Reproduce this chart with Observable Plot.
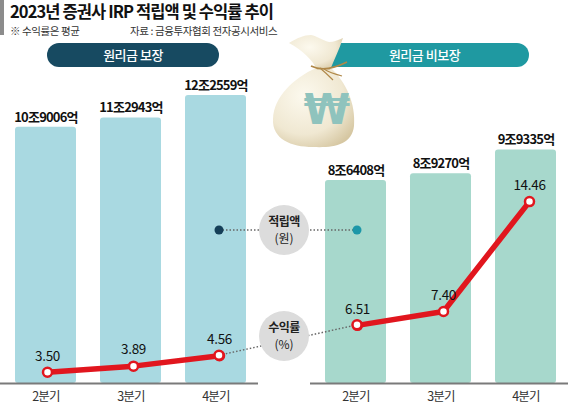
<!DOCTYPE html>
<html><head><meta charset="utf-8">
<script src="https://cdn.jsdelivr.net/npm/d3@7"></script>
<script src="https://cdn.jsdelivr.net/npm/@observablehq/plot@0.6"></script>
<style>
body{margin:0;background:#fff;font-family:"Noto Sans CJK KR","Noto Sans",sans-serif;}
#wrap{position:relative;width:570px;height:407px;overflow:hidden;background:#fff;}
.layer{position:absolute;left:0;top:38px;}
#over{position:absolute;left:0;top:0;}
#gbar{position:absolute;left:0;top:0;width:4px;height:35px;background:#8c8c8c}
#title{position:absolute;left:10px;top:2px;font-size:16.5px;font-weight:700;letter-spacing:-0.9px;color:#111;line-height:19px;white-space:nowrap}
#note{position:absolute;left:10px;top:23.5px;font-size:10.5px;color:#333;letter-spacing:-0.4px;line-height:14px;white-space:nowrap}
#src{position:absolute;left:130px;top:23.5px;font-size:10.5px;color:#333;letter-spacing:-0.4px;line-height:14px;white-space:nowrap}
</style></head><body>
<div id="wrap">
  <div id="gbar"></div>
  <div id="title">2023년 증권사 IRP 적립액 및 수익률 추이</div>
  <div id="note">※ 수익률은 평균</div>
  <div id="src">자료 : 금융투자협회 전자공시서비스</div>
  <div id="bars" class="layer"></div>
  <div id="lines" class="layer"></div>
</div>
<script>
// ---- data ----
const quarters = ["2분기", "3분기", "4분기"];
const groups = ["원리금 보장", "원리금 비보장"];
const guaranteedAmount = [109006, 112943, 122559];   // 억원
const nonGuaranteedAmount = [86408, 89270, 99335];   // 억원
const guaranteedReturn = [3.50, 3.89, 4.56];         // %
const nonGuaranteedReturn = [6.51, 7.40, 14.46];     // %
const legendLabels = [["적립액", "(원)"], ["수익률", "(%)"]];

const rows = [];
quarters.forEach((q, i) => rows.push({group: groups[0], quarter: q, amount: guaranteedAmount[i], ret: guaranteedReturn[i]}));
quarters.forEach((q, i) => rows.push({group: groups[1], quarter: q, amount: nonGuaranteedAmount[i], ret: nonGuaranteedReturn[i]}));

const fmtAmount = v => `${Math.floor(v / 10000)}조${v % 10000}억`;
const font = '"Noto Sans CJK KR","Noto Sans",sans-serif';

const common = {
  width: 570, height: 369,
  marginLeft: 0, marginRight: 2, marginTop: 16, marginBottom: 24,
  fx: {domain: groups, paddingInner: 52 / 310, paddingOuter: 0, axis: null, label: null},
  x: {domain: quarters, paddingInner: 0.279, paddingOuter: 0.14, align: 0.55, label: null},
};

const barPlot = Plot.plot({
  ...common,
  style: {fontFamily: font, background: "transparent", letterSpacing: "-0.8px"},
  y: {domain: [0, 140000], axis: null},
  color: {domain: groups, range: ["#a9d9e1", "#a7d8cc"]},
  marks: [
    Plot.barY(rows, {fx: "group", x: "quarter", y: "amount", fill: "group", rx: 3}),
    Plot.ruleY([0], {stroke: "#7a7a7a", strokeWidth: 2}),
    Plot.text(rows, {fx: "group", x: "quarter", y: "amount", text: d => fmtAmount(d.amount), dy: -10, fontSize: 13, fontWeight: 600, fill: "#111"}),
    Plot.axisX({tickSize: 0, tickPadding: 9, fontSize: 12.5, color: "#333", label: null})
  ]
});
document.getElementById("bars").appendChild(barPlot);

const linePlot = Plot.plot({
  ...common,
  style: {fontFamily: font, background: "transparent", letterSpacing: "-0.3px"},
  x: {...common.x, axis: null},
  y: {domain: [0, 16], range: [388.2, 139.1], axis: null},
  marks: [
    Plot.lineY(rows, {fx: "group", x: "quarter", y: "ret", stroke: "#e1161e", strokeWidth: 5.5}),
    Plot.dot(rows, {fx: "group", x: "quarter", y: "ret", r: 4.5, fill: "#fff", stroke: "#e1161e", strokeWidth: 2.5}),
    Plot.text(rows, {fx: "group", x: "quarter", y: "ret", text: d => d.ret.toFixed(2), dy: -16, fontSize: 13.5, fill: "#111"})
  ]
});
document.getElementById("lines").appendChild(linePlot);

// ---- positions from the plot scales ----
const fxS = linePlot.scale("fx"), xS = linePlot.scale("x"), yS = linePlot.scale("y");
const top0 = 38;
const cx = (g, q) => fxS.apply(g) + xS.apply(q) + xS.bandwidth / 2;
const barL = (g, q) => fxS.apply(g) + xS.apply(q);
const barR = (g, q) => fxS.apply(g) + xS.apply(q) + xS.bandwidth;
const gapMid = (fxS.apply(groups[0]) + fxS.bandwidth + fxS.apply(groups[1])) / 2;

const svg = d3.select("#wrap").append("svg").attr("id", "over")
  .attr("width", 570).attr("height", 407)
  .style("font-family", font);

// header pills
const pillY = 43, pillH = 24;
const p1x = barL(groups[0], quarters[0]), p1w = barR(groups[0], quarters[2]) - p1x;
svg.append("rect").attr("x", p1x).attr("y", pillY).attr("width", p1w).attr("height", pillH).attr("rx", 12).attr("fill", "#174a61");
svg.append("text").attr("x", p1x + p1w / 2).attr("y", pillY + pillH / 2).attr("dy", "0.35em").attr("text-anchor", "middle")
  .attr("fill", "#fff").attr("font-size", 13).attr("font-weight", 500).attr("letter-spacing", "-0.5px").text(groups[0]);
const p2x = 320, p2w = barR(groups[1], quarters[2]) - p2x;
svg.append("rect").attr("x", p2x).attr("y", pillY).attr("width", p2w).attr("height", pillH).attr("rx", 12).attr("fill", "#1f99a1");
svg.append("text").attr("x", p2x + p2w / 2).attr("y", pillY + pillH / 2).attr("dy", "0.35em").attr("text-anchor", "middle")
  .attr("fill", "#fff").attr("font-size", 13).attr("font-weight", 500).attr("letter-spacing", "-0.5px").text(groups[1]);

// money bag (decoration)
const defs = svg.append("defs");
const rg = defs.append("radialGradient").attr("id", "bagg").attr("cx", "38%").attr("cy", "35%").attr("r", "75%");
rg.append("stop").attr("offset", "0%").attr("stop-color", "#fcf9ee");
rg.append("stop").attr("offset", "65%").attr("stop-color", "#f0e8d2");
rg.append("stop").attr("offset", "100%").attr("stop-color", "#d6c7a2");
const bag = svg.append("g");
bag.append("path").attr("d", "M316,68 C294,78 274,96 273,119 C272,139 291,147 313,147 C333,148 352,145 354,126 C356,104 346,82 331,68 Z")
  .attr("fill", "url(#bagg)");
bag.append("path").attr("d", "M317,70 C313,60 302,50 289,43 C297,38 304,35 311,35 C317,36 322,40 329,42 C334,42 338,40 343,38 C339,50 334,60 330,70 Z")
  .attr("fill", "url(#bagg)");
bag.append("path").attr("d", "M311,66 Q325,73 347,62").attr("fill", "none").attr("stroke", "#b08848").attr("stroke-width", 1.6);
bag.append("path").attr("d", "M320,68 Q326,73 333,80 M324,69 Q330,73 342,76").attr("fill", "none").attr("stroke", "#b08848").attr("stroke-width", 1.2);
bag.append("text").attr("x", 327).attr("y", 124).attr("text-anchor", "middle").attr("font-size", 42).attr("font-weight", 700)
  .attr("font-family", '"DejaVu Sans","Liberation Sans",sans-serif').attr("fill", "#8fc3bd").text("₩");

// legend: 적립액 row
const ly1 = 230, ly2 = 336, lr = 25;
const d1x = cx(groups[0], quarters[2]), d2x = cx(groups[1], quarters[0]);
svg.append("line").attr("x1", d1x).attr("x2", d2x).attr("y1", ly1).attr("y2", ly1)
  .attr("stroke", "#666").attr("stroke-width", 1.5).attr("stroke-dasharray", "1.5,2");
svg.append("circle").attr("cx", d1x).attr("cy", ly1).attr("r", 4.5).attr("fill", "#153f58");
svg.append("circle").attr("cx", d2x).attr("cy", ly1).attr("r", 4.5).attr("fill", "#1c97a8");
// dotted connector between return series
const r1y = yS.apply(guaranteedReturn[2]) + top0, r2y = yS.apply(nonGuaranteedReturn[0]) + top0;
svg.append("line").attr("x1", d1x).attr("x2", d2x).attr("y1", r1y).attr("y2", r2y)
  .attr("stroke", "#666").attr("stroke-width", 1.5).attr("stroke-dasharray", "1.5,2");
// redraw end markers on top of connector
[[d1x, r1y], [d2x, r2y]].forEach(([x, y]) => svg.append("circle").attr("cx", x).attr("cy", y).attr("r", 4.5)
  .attr("fill", "#fff").attr("stroke", "#e1161e").attr("stroke-width", 2.5));

[[ly1, legendLabels[0]], [ly2, legendLabels[1]]].forEach(([cy, [a, b]]) => {
  svg.append("circle").attr("cx", gapMid).attr("cy", cy).attr("r", lr).attr("fill", "#dcdcdc");
  svg.append("text").attr("x", gapMid).attr("y", cy - 8).attr("dy", "0.35em").attr("text-anchor", "middle")
    .attr("font-size", 12).attr("font-weight", 700).attr("fill", "#222").attr("letter-spacing", "-0.6px").text(a);
  svg.append("text").attr("x", gapMid).attr("y", cy + 9).attr("dy", "0.35em").attr("text-anchor", "middle")
    .attr("font-size", 12).attr("fill", "#222").text(b);
});
</script>
</body></html>
